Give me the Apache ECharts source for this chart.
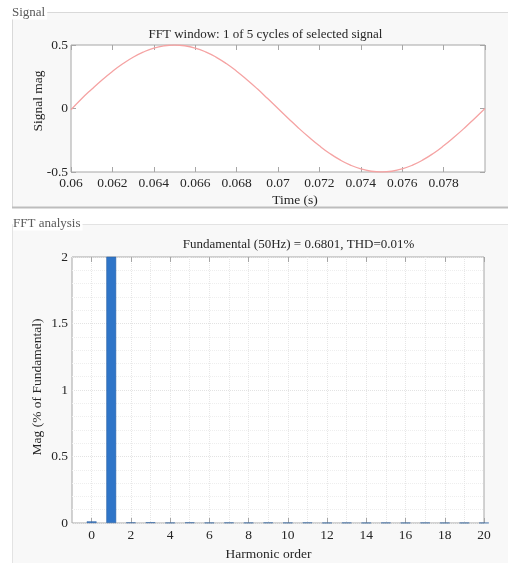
<!DOCTYPE html>
<html>
<head>
<meta charset="utf-8">
<style>
html,body{margin:0;padding:0;background:#fff;}
#c{width:508px;height:563px;}
</style>
<script src="https://cdn.jsdelivr.net/npm/echarts@6/dist/echarts.min.js"></script>
</head>
<body>
<div id="c"></div>
<script>
// ---- Data ----
var timeS = [0.0600,0.0605,0.0610,0.0615,0.0620,0.0625,0.0630,0.0635,0.0640,0.0645,
             0.0650,0.0655,0.0660,0.0665,0.0670,0.0675,0.0680,0.0685,0.0690,0.0695,
             0.0700,0.0705,0.0710,0.0715,0.0720,0.0725,0.0730,0.0735,0.0740,0.0745,
             0.0750,0.0755,0.0760,0.0765,0.0770,0.0775,0.0780,0.0785,0.0790,0.0795,0.0800];
var signalMag = [-0.01,0.075,0.152,0.225,0.292,0.352,0.404,0.445,0.476,0.494,
                 0.500,0.494,0.476,0.446,0.405,0.354,0.294,0.227,0.155,0.078,
                 0.000,-0.078,-0.155,-0.227,-0.294,-0.354,-0.405,-0.446,-0.476,-0.494,
                 -0.500,-0.494,-0.476,-0.446,-0.405,-0.354,-0.294,-0.227,-0.155,-0.078,0.000];
var harmonicOrder = ['-1','0','1','2','3','4','5','6','7','8','9','10','11','12','13','14','15','16','17','18','19','20'];
var harmonicMag  = [null,0.012,100,0.004,0.005,0.002,0.004,0.002,0.003,0.002,0.003,0.002,0.003,0.001,0.002,0.001,0.002,0.001,0.002,0.001,0.001,0.001];
var signalTicks = [-0.5, 0, 0.5];
var fftTicks = [0, 0.5, 1, 1.5, 2];

var FONT = 'Liberation Serif';
var TXT = '#262626';
var BOX = '#a6a6a6';
var FS = 13.5;

function evenLabel(i, v){ var n = +v; return n >= 0 && n % 2 === 0; }

var chart = echarts.init(document.getElementById('c'), null, {renderer:'canvas'});
var option = {
  animation: false,
  backgroundColor: '#ffffff',
  graphic: [
    {type:'rect', z:-10, shape:{x:12.5, y:12.5, width:500, height:195}, style:{fill:'#f8f8f8', stroke:'#d9d9d9', lineWidth:1}},
    {type:'line', z:-9, shape:{x1:12, y1:207.5, x2:508, y2:207.5}, style:{stroke:'#bdbdbd', lineWidth:2}},
    {type:'rect', z:-10, shape:{x:12.5, y:224.5, width:500, height:345}, style:{fill:'#f8f8f8', stroke:'#e3e3e3', lineWidth:1}},
    {type:'text', z:-8, x:12, y:13, style:{text:'Signal', font:'13px "Liberation Serif"', fill:'#595959', textVerticalAlign:'middle', backgroundColor:'#ffffff', padding:[0,2,0,0]}},
    {type:'text', z:-8, x:13, y:224, style:{text:'FFT analysis', font:'13px "Liberation Serif"', fill:'#595959', textVerticalAlign:'middle', backgroundColor:'#ffffff', padding:[0,2,0,0]}},
    {type:'text', x:265.5, y:35, style:{text:'FFT window: 1 of 5 cycles of selected signal', font:'13px "Liberation Serif"', fill:TXT, textAlign:'center', textVerticalAlign:'middle'}},
    {type:'text', x:298.5, y:245, style:{text:'Fundamental (50Hz) = 0.6801, THD=0.01%', font:'13px "Liberation Serif"', fill:TXT, textAlign:'center', textVerticalAlign:'middle'}},
    {type:'text', x:38, y:101, rotation:Math.PI/2, style:{text:'Signal mag', font:'13.5px "Liberation Serif"', fill:TXT, textAlign:'center', textVerticalAlign:'middle'}},
    {type:'text', x:37, y:387, rotation:Math.PI/2, style:{text:'Mag (% of Fundamental)', font:'13.5px "Liberation Serif"', fill:TXT, textAlign:'center', textVerticalAlign:'middle'}}
  ],
  grid: [
    {left:71, right:23, top:45, height:127, show:true, backgroundColor:'#ffffff', borderColor:BOX, borderWidth:1},
    {left:72, right:24, top:257, height:266, show:true, backgroundColor:'#ffffff', borderColor:BOX, borderWidth:1}
  ],
  xAxis: [
    {type:'value', gridIndex:0, position:'bottom', min:0.06, max:0.08, interval:0.002,
     name:'Time (s)', nameLocation:'middle', nameGap:21,
     nameTextStyle:{fontFamily:FONT, fontSize:FS, color:TXT, padding:[0,0,0,34]},
     axisLine:{show:false, onZero:false}, axisTick:{inside:true, length:5, lineStyle:{color:BOX}},
     axisLabel:{fontFamily:FONT, fontSize:FS, color:TXT, margin:4, showMaxLabel:false},
     splitLine:{show:false}},
    {type:'value', gridIndex:0, position:'top', min:0.06, max:0.08, interval:0.002,
     axisLine:{show:false, onZero:false}, axisTick:{inside:true, length:5, lineStyle:{color:BOX}},
     axisLabel:{show:false}, splitLine:{show:false}},
    {type:'category', gridIndex:1, position:'bottom', data:harmonicOrder, boundaryGap:false,
     name:'Harmonic order', nameLocation:'middle', nameGap:24,
     nameTextStyle:{fontFamily:FONT, fontSize:FS, color:TXT, padding:[0,19,0,0]},
     axisLine:{show:false, onZero:false},
     axisTick:{inside:true, length:5, interval:evenLabel, lineStyle:{color:BOX}},
     axisLabel:{fontFamily:FONT, fontSize:FS, color:TXT, margin:5, interval:evenLabel},
     splitLine:{show:true, interval:function(i,v){return +v>=0 && +v<20;}, lineStyle:{color:'#e6e6e6', type:'dotted', width:1}}},
    {type:'category', gridIndex:1, position:'top', data:harmonicOrder, boundaryGap:false,
     axisLine:{show:false, onZero:false},
     axisTick:{inside:true, length:5, interval:evenLabel, lineStyle:{color:BOX}},
     axisLabel:{show:false}, splitLine:{show:false}}
  ],
  yAxis: [
    {type:'value', gridIndex:0, position:'left', min:-0.5, max:0.5, interval:0.5,
     axisLine:{show:false, onZero:false}, axisTick:{inside:true, length:5, lineStyle:{color:BOX}},
     axisLabel:{fontFamily:FONT, fontSize:FS, color:TXT, margin:3,
       formatter:function(v){ return signalTicks.indexOf(v) >= 0 ? String(v) : ''; }},
     splitLine:{show:false}},
    {type:'value', gridIndex:0, position:'right', min:-0.5, max:0.5, interval:0.5,
     axisLine:{show:false, onZero:false}, axisTick:{inside:true, length:5, lineStyle:{color:BOX}},
     axisLabel:{show:false}, splitLine:{show:false}},
    {type:'value', gridIndex:1, position:'left', min:0, max:2, interval:0.5,
     axisLine:{show:false, onZero:false}, axisTick:{inside:true, length:5, lineStyle:{color:BOX}},
     axisLabel:{fontFamily:FONT, fontSize:FS, color:TXT, margin:4,
       formatter:function(v){ return fftTicks.indexOf(v) >= 0 ? String(v) : ''; }},
     splitLine:{show:true, lineStyle:{color:'#e3e3e3', type:'dotted', width:1}},
     minorTick:{show:false, splitNumber:5},
     minorSplitLine:{show:true, lineStyle:{color:'#eeeeee', type:'dotted', width:1}}},
    {type:'value', gridIndex:1, position:'right', min:0, max:2, interval:0.5,
     axisLine:{show:false, onZero:false}, axisTick:{inside:true, length:5, lineStyle:{color:BOX}},
     axisLabel:{show:false}, splitLine:{show:false}}
  ],
  series: [
    {type:'line', xAxisIndex:0, yAxisIndex:0, smooth:true, showSymbol:false,
     data: timeS.map(function(t,i){ return [t, signalMag[i]]; }),
     lineStyle:{color:'#f5a3a3', width:1.3}, clip:true},
    {type:'bar', xAxisIndex:2, yAxisIndex:2, data:harmonicMag, barWidth:'50%',
     itemStyle:{color:'#2f75c8', borderColor:'#2a5f9e', borderWidth:0.5}, clip:true}
  ]
};
chart.setOption(option);
</script>
</body>
</html>
